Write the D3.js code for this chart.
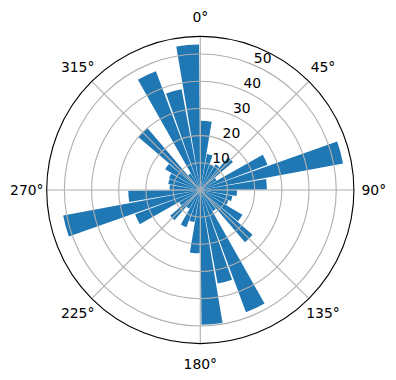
<!DOCTYPE html>
<html>
<head>
<meta charset="utf-8">
<script src="https://cdn.jsdelivr.net/npm/d3@7"></script>
<style>
  body { margin: 0; background: #fff; }
  svg text { font-family: "DejaVu Sans", sans-serif; font-size: 13.9px; fill: #000; }
</style>
</head>
<body>
<div id="chart"></div>
<script>
// bin centres (degrees, clockwise from north) and counts
var directions = [5, 15, 25, 35, 45, 55, 65, 75, 85, 95, 105, 115,
                  125, 135, 145, 155, 165, 175, 185, 195, 205, 215, 225, 235,
                  245, 255, 265, 275, 285, 295, 305, 315, 325, 335, 345, 355];
var counts = [25.5, 13.5, 10, 11, 15.8, 7, 26.4, 53.4, 24.5, 13.5, 12, 11,
              18, 25.3, 9, 48, 35, 49.6, 23.3, 12, 14.6, 8, 14.6, 9,
              25.6, 51.3, 26.5, 11.3, 12, 12.3, 15, 30, 7, 46.6, 37.7, 53.5];
var binWidth = 9;   // bar width in degrees
var rTicks = [10, 20, 30, 40, 50];
var thetaTicks = [0, 45, 90, 135, 180, 225, 270, 315];
var thetaLabels = ["0°", "45°", "90°", "135°", "180°", "225°", "270°", "315°"];
var rMax = 56.5;

var width = 396, height = 380;
var cx = 200.3, cy = 190, outerR = 153.6;

var svg = d3.select("#chart").append("svg")
    .attr("width", width)
    .attr("height", height);

svg.append("rect").attr("width", width).attr("height", height).attr("fill", "#fff");

var g = svg.append("g").attr("transform", "translate(" + cx + "," + cy + ")");

var r = d3.scaleLinear().domain([0, rMax]).range([0, outerR]);
var rad = function(deg) { return deg * Math.PI / 180; };

var data = directions.map(function(d, i) { return {dir: d, count: counts[i]}; });

var arc = d3.arc()
    .innerRadius(0)
    .outerRadius(function(d) { return r(d.count); })
    .startAngle(function(d) { return rad(d.dir - binWidth / 2); })
    .endAngle(function(d) { return rad(d.dir + binWidth / 2); });

g.selectAll(".bar")
  .data(data)
  .enter().append("path")
    .attr("class", "bar")
    .attr("d", arc)
    .attr("fill", "#1f77b4");

// grid drawn above the bars, like matplotlib
g.selectAll(".ring")
  .data(rTicks)
  .enter().append("circle")
    .attr("class", "ring")
    .attr("r", function(d) { return r(d); })
    .attr("fill", "none")
    .attr("stroke", "#b0b0b0")
    .attr("stroke-width", 1.1);

g.selectAll(".spoke")
  .data(thetaTicks)
  .enter().append("line")
    .attr("class", "spoke")
    .attr("x1", 0).attr("y1", 0)
    .attr("x2", function(d) { return outerR * Math.sin(rad(d)); })
    .attr("y2", function(d) { return -outerR * Math.cos(rad(d)); })
    .attr("stroke", "#b0b0b0")
    .attr("stroke-width", 1.1);

g.append("circle")
    .attr("r", outerR)
    .attr("fill", "none")
    .attr("stroke", "#000")
    .attr("stroke-width", 1.1);

// angle labels
g.selectAll(".tlabel")
  .data(thetaTicks)
  .enter().append("text")
    .attr("class", "tlabel")
    .attr("x", function(d) { return 173.5 * Math.sin(rad(d)); })
    .attr("y", function(d) { return -173.5 * Math.cos(rad(d)); })
    .attr("text-anchor", "middle")
    .attr("dy", "0.36em")
    .text(function(d, i) { return thetaLabels[i]; });

// radial labels at 22.5 degrees
g.selectAll(".rlabel")
  .data(rTicks)
  .enter().append("text")
    .attr("class", "rlabel")
    .attr("x", function(d) { return r(d) * Math.sin(rad(22.5)) + 1.5; })
    .attr("y", function(d) { return -r(d) * Math.cos(rad(22.5)) - 1.5; })
    .attr("text-anchor", "start")
    .text(function(d) { return d; });
</script>
</body>
</html>
